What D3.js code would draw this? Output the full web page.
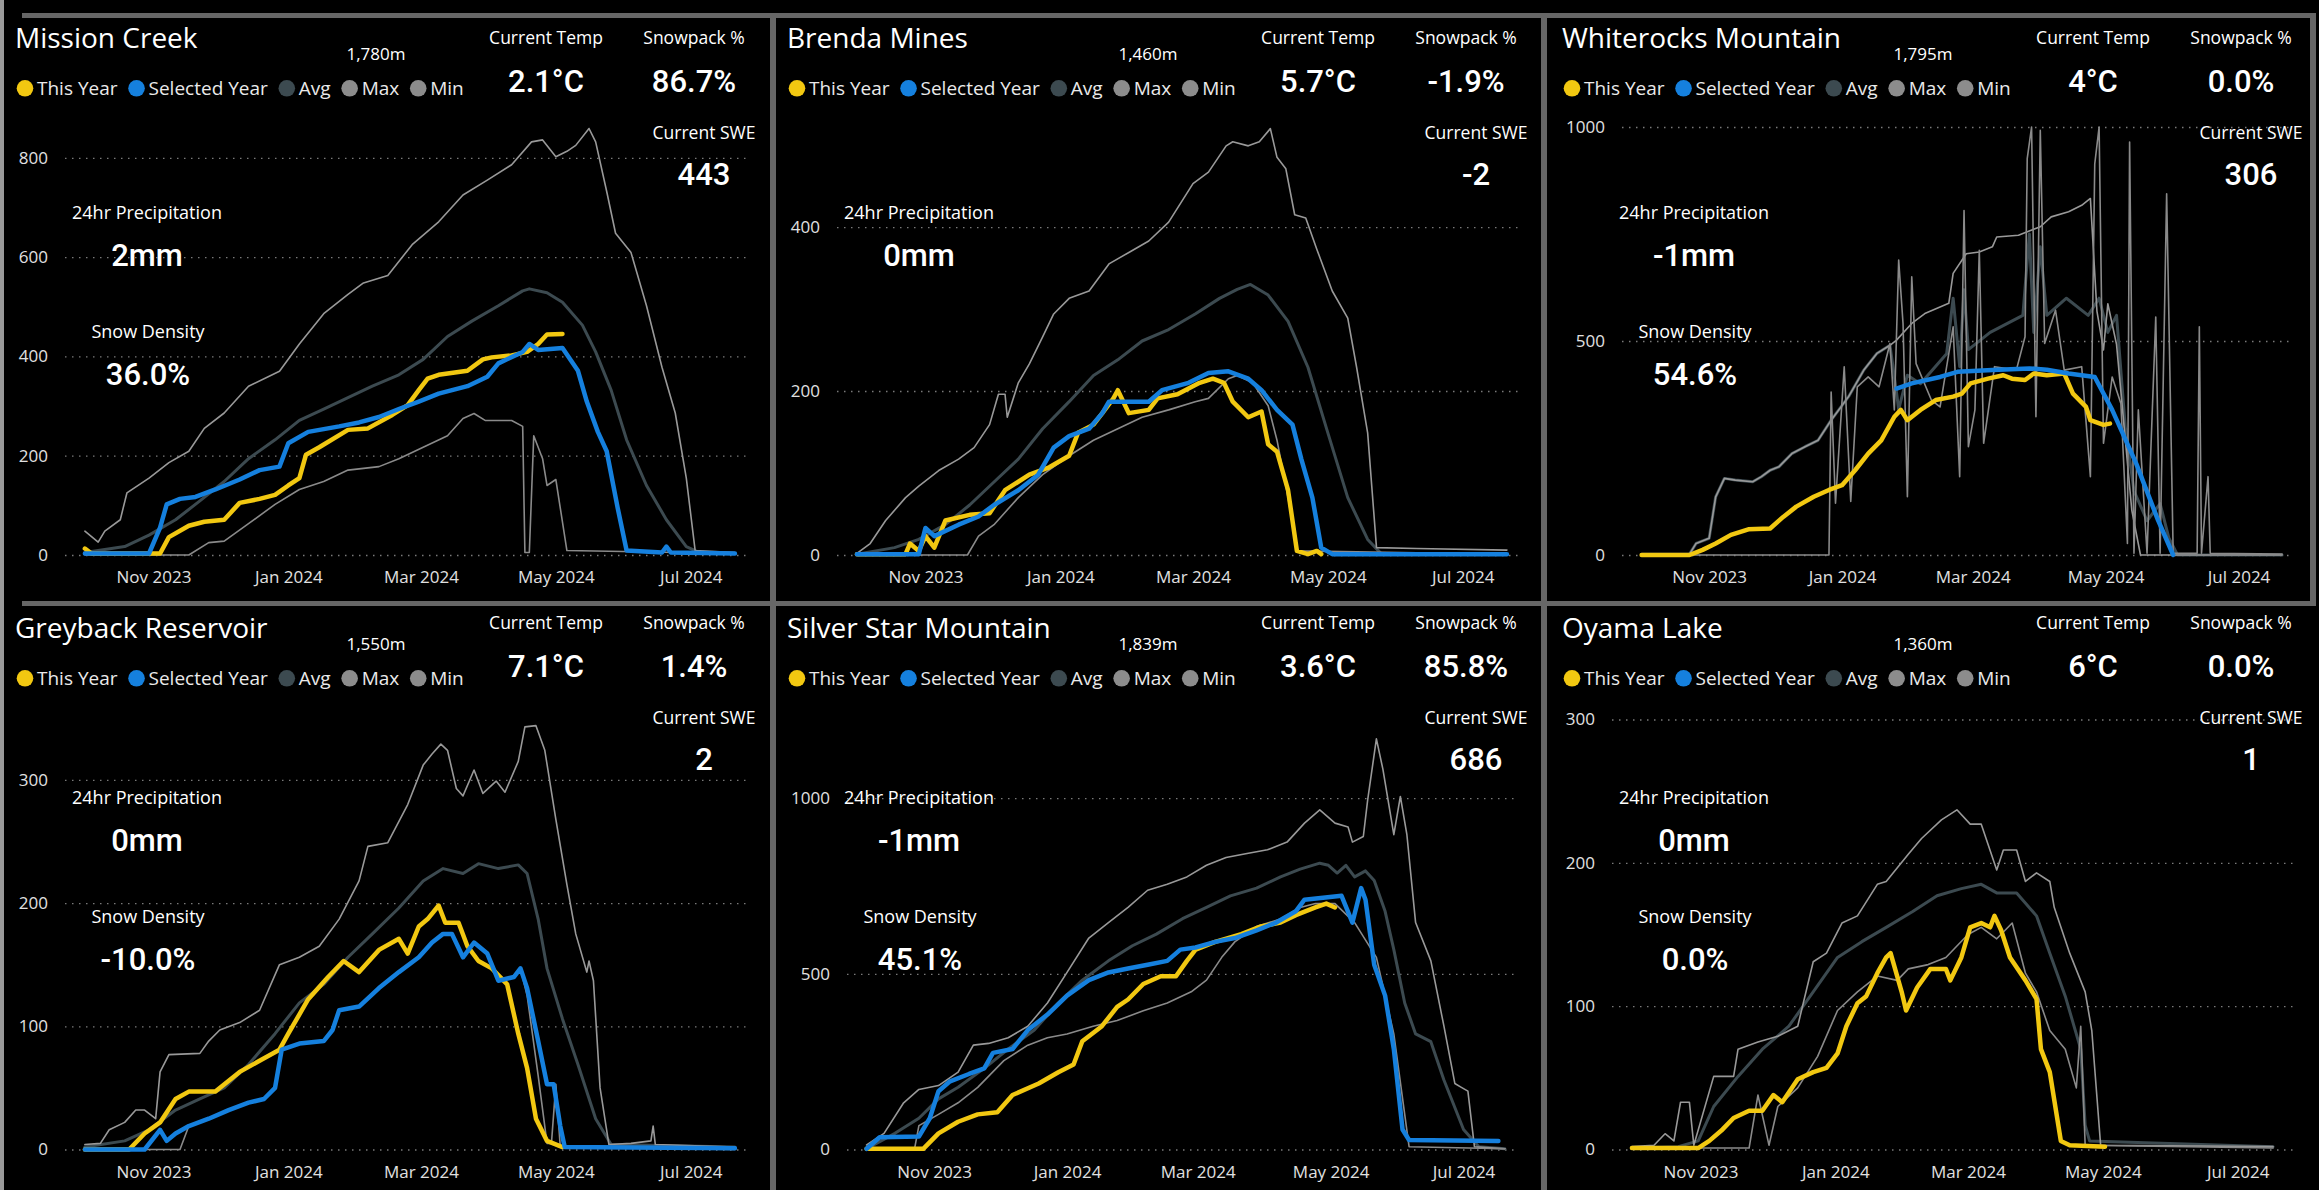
<!DOCTYPE html>
<html>
<head>
<meta charset="utf-8">
<script src="https://cdnjs.cloudflare.com/ajax/libs/d3/7.8.5/d3.min.js"></script>
<style>
  body { margin: 0; background: #000; }
  svg { display: block; }
  text { font-family: "Open Sans", sans-serif; }
</style>
</head>
<body>
<svg id="chart" width="2319" height="1190"></svg>
<script>
// station header values
var stations = ["Mission Creek", "Brenda Mines", "Whiterocks Mountain", "Greyback Reservoir", "Silver Star Mountain", "Oyama Lake"];
var elevations = ["1,780m", "1,460m", "1,795m", "1,550m", "1,839m", "1,360m"];
var temps = ["2.1°C", "5.7°C", "4°C", "7.1°C", "3.6°C", "6°C"];
var snowpacks = ["86.7%", "-1.9%", "0.0%", "1.4%", "85.8%", "0.0%"];
var swes = ["443", "-2", "306", "2", "686", "1"];
var precips = ["2mm", "0mm", "-1mm", "0mm", "-1mm", "0mm"];
var densities = ["36.0%", null, "54.6%", "-10.0%", "45.1%", "0.0%"];
var yMaxes = [862, 522, 1000, 349, 1224, 300];
var yTicks = [[0, 200, 400, 600, 800], [0, 200, 400], [0, 500, 1000], [0, 100, 200, 300], [0, 500, 1000], [0, 100, 200, 300]];
var seriesNames = ["This Year", "Selected Year", "Avg", "Max", "Min"];

// [days since 1 Oct 2023, SWE mm]
var mcThis = [[0,13],[3,3],[34,3],[38,36],[47,59],[54,67],[63,71],[70,105],[79,113],[86,121],[92,140],[97,155],[100,202],[106,217],[119,252],[128,255],[139,282],[146,302],[151,332],[155,355],[160,363],[173,371],[180,394],[184,398],[193,402],[200,409],[205,425],[209,444],[216,445]];
var mcSel = [[0,3],[29,3],[34,55],[37,102],[43,113],[50,117],[59,132],[70,152],[79,171],[88,178],[92,225],[101,248],[115,259],[124,267],[133,278],[142,294],[151,309],[160,325],[173,340],[182,359],[187,386],[198,409],[201,425],[205,413],[216,417],[223,371],[227,309],[232,248],[236,209],[241,94],[245,9],[261,5],[263,17],[265,5],[294,3]];
var mcAvg = [[0,5],[18,17],[29,40],[41,71],[52,109],[63,148],[74,194],[86,232],[97,271],[108,294],[119,317],[130,340],[142,363],[153,394],[164,440],[175,471],[187,502],[198,532],[201,536],[209,528],[216,509],[225,463],[231,409],[238,332],[245,232],[254,140],[263,71],[272,17],[279,3],[294,3]];
var mcMax = [[0,48],[6,26],[9,48],[16,71],[19,125],[29,155],[38,186],[47,209],[54,255],[63,286],[74,340],[88,370],[97,425],[108,486],[119,525],[126,548],[137,563],[148,625],[160,671],[171,725],[182,755],[193,786],[202,832],[207,836],[213,802],[218,813],[222,825],[228,859],[231,832],[236,732],[240,648],[247,609],[254,502],[261,378],[267,286],[272,155],[276,9],[294,5]];
var mcMin = [[0,0],[47,0],[56,25],[63,28],[74,63],[86,102],[97,132],[108,148],[119,171],[133,178],[142,194],[153,217],[164,240],[171,275],[176,285],[181,271],[193,271],[198,259],[199,5],[201,5],[203,240],[207,194],[209,140],[213,152],[218,9],[294,3]];

var bmThis = [[0,1],[22,1],[24,14],[28,5],[31,23],[35,9],[40,42],[51,49],[60,51],[67,79],[78,98],[87,107],[96,121],[100,149],[107,159],[111,173],[116,191],[118,201],[123,173],[132,177],[136,191],[145,196],[155,210],[161,215],[166,210],[170,187],[177,168],[183,175],[186,135],[190,126],[195,79],[199,5],[204,1],[208,5],[210,1]];
var bmSel = [[0,1],[28,1],[31,33],[35,23],[46,37],[55,47],[62,61],[73,79],[82,98],[89,131],[96,145],[105,154],[111,173],[114,187],[132,187],[138,201],[150,210],[159,222],[168,224],[177,215],[183,201],[190,177],[197,159],[201,117],[206,70],[210,9],[215,1],[294,1]];
var bmAvg = [[0,1],[17,9],[28,19],[40,37],[51,61],[62,89],[73,117],[84,154],[96,187],[107,219],[118,238],[129,261],[141,275],[153,294],[164,313],[172,324],[178,330],[186,317],[195,285],[204,229],[213,149],[222,70],[231,19],[237,2],[294,1]];
var bmMax = [[0,2],[6,14],[13,42],[22,70],[28,84],[37,103],[46,117],[53,131],[60,159],[64,196],[67,196],[68,168],[73,210],[78,233],[84,266],[89,294],[96,313],[105,322],[114,355],[123,369],[132,383],[141,406],[152,453],[159,467],[167,499],[170,504],[177,499],[182,504],[187,520],[190,485],[194,471],[198,415],[203,411],[208,373],[215,322],[222,289],[226,229],[231,149],[235,9],[253,8],[294,6]];
var bmMin = [[0,0],[50,0],[55,23],[62,37],[73,70],[84,98],[96,121],[107,140],[118,154],[129,168],[141,177],[153,187],[159,191],[168,215],[172,219],[179,210],[186,182],[190,140],[195,70],[199,5],[294,1]];

var wrThis = [[0,0],[22,0],[28,12],[34,27],[41,47],[49,60],[59,62],[65,89],[71,113],[79,136],[86,152],[92,163],[98,198],[104,237],[110,268],[116,323],[119,339],[122,315],[128,339],[135,362],[143,370],[147,377],[151,401],[159,412],[166,420],[170,412],[176,409],[180,424],[186,420],[194,424],[198,377],[204,346],[206,315],[212,304],[215,307]];
var wrSel = [[117,389],[124,401],[137,416],[145,428],[161,432],[178,436],[186,433],[196,424],[208,416],[216,339],[227,214],[237,82],[244,0]];
var wrAvg = [[0,2],[22,2],[25,27],[31,39],[34,136],[38,179],[43,175],[51,171],[55,183],[59,198],[63,206],[69,237],[75,253],[81,268],[87,315],[95,370],[102,432],[108,471],[114,490],[117,380],[118,340],[122,420],[128,400],[140,470],[143,600],[146,440],[148,620],[150,480],[160,520],[175,560],[178,750],[180,520],[183,720],[186,560],[195,600],[205,560],[210,600],[214,520],[218,560],[222,300],[226,150],[232,80],[238,120],[242,40],[246,0],[294,0]];
var wrMax = [[0,2],[22,2],[25,27],[31,39],[34,136],[38,179],[43,175],[51,171],[55,183],[59,198],[63,206],[69,237],[75,253],[81,268],[87,315],[95,370],[102,432],[108,471],[114,490],[117,502],[124,541],[130,564],[141,588],[143,658],[149,704],[155,708],[161,720],[163,743],[173,747],[175,751],[183,767],[188,790],[196,802],[202,817],[206,833],[209,570],[212,479],[214,587],[218,492],[225,105],[229,0],[294,0]];
var wrMin = [[0,0],[86,0],[87,381],[89,121],[93,440],[96,125],[99,393],[104,416],[109,393],[114,494],[116,339],[118,689],[120,541],[122,136],[124,650],[126,447],[133,362],[137,346],[143,533],[146,183],[148,805],[150,253],[153,339],[155,712],[157,261],[162,440],[172,432],[176,510],[177,926],[179,1000],[181,323],[183,992],[185,494],[190,572],[194,432],[202,440],[206,183],[208,914],[210,1000],[212,261],[216,416],[220,354],[223,27],[224,965],[226,4],[228,339],[232,4],[236,556],[238,4],[241,844],[244,4],[255,4],[256,533],[257,4],[260,183],[261,4],[294,2]];

var gbThis = [[0,0],[20,0],[27,13],[34,22],[41,41],[47,47],[59,47],[70,63],[79,72],[88,81],[92,94],[101,122],[110,140],[117,153],[124,144],[133,162],[142,171],[146,159],[151,181],[155,187],[160,198],[163,184],[169,184],[173,165],[178,153],[184,147],[191,134],[196,94],[200,66],[204,25],[209,7],[216,2]];
var gbSel = [[0,0],[27,0],[34,16],[37,7],[41,13],[47,19],[56,25],[65,32],[74,38],[81,41],[86,50],[89,81],[97,86],[108,88],[112,97],[115,113],[124,116],[133,131],[142,144],[151,156],[157,168],[162,175],[166,175],[171,156],[176,168],[182,159],[187,137],[194,140],[197,147],[200,131],[205,88],[209,53],[212,53],[215,19],[217,2],[294,1]];
var gbAvg = [[0,2],[18,7],[29,16],[41,32],[52,41],[63,50],[74,69],[86,94],[97,119],[108,134],[119,156],[130,175],[142,196],[153,218],[162,228],[171,224],[178,232],[187,228],[196,231],[200,224],[205,187],[209,147],[216,106],[223,69],[231,25],[238,4],[294,2]];
var gbMax = [[0,4],[7,5],[11,16],[18,22],[23,32],[27,32],[32,25],[34,63],[38,77],[52,78],[56,88],[61,97],[70,103],[79,113],[88,150],[97,156],[106,165],[115,187],[124,218],[128,246],[137,249],[146,280],[153,312],[157,321],[161,329],[164,324],[168,293],[171,287],[176,308],[180,289],[186,299],[190,290],[196,315],[199,343],[204,344],[208,324],[213,268],[218,215],[222,175],[227,144],[228,153],[230,137],[233,50],[237,4],[247,5],[256,7],[257,19],[258,4],[294,2]];
var gbMin = [[0,0],[43,0],[47,19],[56,25],[65,32],[74,38],[81,41],[86,50],[89,81],[97,86],[108,88],[112,97],[115,113],[124,116],[133,131],[142,144],[151,156],[157,168],[162,175],[166,175],[171,156],[176,168],[182,159],[187,137],[194,140],[197,147],[200,125],[205,60],[209,5],[211,5],[213,53],[215,2],[294,0]];

var ssThis = [[0,2],[26,2],[33,46],[42,79],[51,100],[60,106],[67,155],[79,188],[88,220],[95,242],[99,308],[108,351],[115,406],[120,427],[127,471],[135,493],[142,493],[147,537],[151,569],[160,591],[172,613],[181,635],[190,646],[197,667],[206,689],[211,700],[215,689]];
var ssSel = [[0,2],[6,35],[24,37],[29,89],[33,166],[38,193],[47,215],[54,231],[58,275],[67,286],[74,340],[83,384],[92,438],[102,482],[111,504],[120,515],[129,526],[138,537],[144,569],[151,575],[160,591],[169,602],[179,624],[188,646],[197,678],[201,711],[218,722],[223,646],[227,744],[229,711],[233,526],[238,438],[242,286],[246,57],[249,27],[290,24]];
var ssAvg = [[0,2],[13,46],[24,89],[33,144],[42,177],[54,231],[65,286],[77,340],[88,417],[99,482],[111,537],[122,580],[133,613],[145,657],[156,689],[167,722],[179,744],[190,776],[199,798],[208,815],[212,809],[216,787],[220,809],[224,776],[229,793],[233,766],[238,678],[242,569],[247,417],[252,329],[259,307],[265,198],[274,57],[281,8],[293,2]];
var ssMax = [[0,13],[8,46],[17,133],[24,171],[33,182],[42,220],[49,297],[56,302],[65,318],[74,351],[83,417],[92,504],[102,602],[111,646],[120,689],[129,738],[138,755],[147,776],[156,809],[165,831],[174,842],[184,853],[193,875],[201,929],[208,967],[215,929],[221,918],[223,875],[228,891],[230,995],[234,1169],[237,1082],[242,896],[245,1005],[248,896],[252,646],[259,537],[265,351],[270,188],[273,177],[276,166],[279,8],[293,2]];
var ssMin = [[0,2],[22,2],[24,68],[33,100],[42,133],[51,177],[63,253],[74,297],[83,318],[92,329],[104,351],[115,367],[127,395],[138,417],[149,449],[156,482],[163,547],[169,591],[179,635],[190,656],[199,689],[206,700],[215,700],[224,646],[234,547],[242,329],[249,8],[293,2]];

var oyThis = [[0,1],[30,1],[35,6],[41,14],[46,22],[53,27],[59,27],[64,38],[68,33],[75,49],[82,54],[88,57],[93,67],[97,86],[102,102],[106,107],[111,123],[115,134],[117,137],[122,110],[124,97],[129,113],[135,126],[142,126],[144,118],[149,134],[153,155],[158,158],[162,155],[164,163],[167,153],[171,134],[178,118],[183,105],[185,70],[189,54],[194,6],[198,3],[214,2]];
var oySel = [];
var oyAvg = [[0,1],[21,2],[30,6],[37,30],[48,51],[59,70],[71,86],[82,110],[93,134],[104,145],[115,155],[127,166],[138,177],[149,182],[158,185],[165,179],[174,179],[183,163],[189,137],[196,107],[203,70],[205,17],[207,6],[290,2]];
var oyMax = [[0,2],[10,3],[15,11],[19,6],[22,33],[26,33],[28,3],[37,51],[46,51],[48,70],[57,75],[66,79],[75,86],[82,131],[88,137],[95,158],[102,163],[111,185],[115,187],[125,206],[131,217],[140,230],[147,237],[153,227],[158,227],[165,195],[168,209],[174,209],[178,187],[183,193],[189,187],[191,169],[198,137],[205,110],[208,83],[212,3],[290,2]];
var oyMin = [[0,1],[53,1],[57,38],[62,3],[66,30],[75,43],[84,65],[93,97],[102,110],[111,121],[120,118],[125,126],[134,129],[142,134],[152,150],[158,155],[165,147],[172,158],[178,123],[183,110],[189,83],[196,70],[201,43],[203,86],[205,3],[290,1]];

var thisYear = [mcThis, bmThis, wrThis, gbThis, ssThis, oyThis];
var selYear = [mcSel, bmSel, wrSel, gbSel, ssSel, oySel];
var avgs = [mcAvg, bmAvg, wrAvg, gbAvg, ssAvg, oyAvg];
var maxs = [mcMax, bmMax, wrMax, gbMax, ssMax, oyMax];
var mins = [mcMin, bmMin, wrMin, gbMin, ssMin, oyMin];

var colors = ["#F2C811", "#1580DE", "#3C4A50", "#999999", "#8A8A8A"];
var dotColors = ["#F2C811", "#1580DE", "#3C4A50", "#8C8C8C", "#8C8C8C"];
var widths = [4.5, 4.5, 3, 1.6, 1.6];
var drawOrder = [2, 3, 4, 0, 1];   // avg + grey lines underneath, this/selected year on top

var W = 2319, H = 1190;
var start = new Date(2023, 9, 1);
var domainX = [new Date(2023, 8, 22), new Date(2024, 6, 26)];
var colX = [4, 776, 1551];
var plotY = [[555, 127], [1149.5, 719.5]];

var svg = d3.select("#chart");
svg.append("rect").attr("width", W).attr("height", H).attr("fill", "#000");

function label(g, x, y, s, size, anchor, fill, family, weight) {
    return g.append("text")
        .attr("x", x).attr("y", y)
        .attr("text-anchor", anchor || "middle")
        .style("font-size", size + "px")
        .style("fill", fill || "#fff")
        .style("font-family", family || null)
        .style("font-weight", weight || null)
        .text(s);
}

var bigFont = "Roboto, sans-serif";

stations.forEach(function(name, i) {
    var col = i % 3, row = Math.floor(i / 3);
    var x0 = colX[col];
    var tr = row ? 590 : 0;   // title + legend
    var vr = row ? 585 : 0;   // card values
    var g = svg.append("g");

    var wide = d3.max(yTicks[i]) >= 1000;
    var left = x0 + (wide ? 71 : 61), right = x0 + 742;
    var x = d3.scaleTime().domain(domainX).range([left, right]);
    var y = d3.scaleLinear().domain([0, yMaxes[i]]).range(plotY[row]);

    // gridlines + y labels
    var ya = g.append("g")
        .attr("transform", "translate(" + left + ",0)")
        .call(d3.axisLeft(y).tickValues(yTicks[i]).tickFormat(d3.format("d"))
            .tickSize(-(right - left)).tickPadding(17));
    ya.select(".domain").remove();
    ya.selectAll("line").attr("stroke", "#7a7a7a").attr("stroke-width", 1.3).attr("stroke-dasharray", "1.5 5.5");
    ya.selectAll("text").style("font-size", "17px").style("fill", "#e0e0e0").style("font-family", "'Open Sans', sans-serif");

    var xa = g.append("g")
        .attr("transform", "translate(0," + plotY[row][0] + ")")
        .call(d3.axisBottom(x).ticks(d3.timeMonth.every(2)).tickFormat(d3.timeFormat("%b %Y")).tickSize(0));
    xa.select(".domain").remove();
    xa.selectAll("text").attr("y", 28).attr("dy", null)
        .style("font-size", "17px").style("fill", "#e0e0e0").style("font-family", "'Open Sans', sans-serif");

    var line = d3.line()
        .x(function(d) { return x(d3.timeDay.offset(start, d[0])); })
        .y(function(d) { return y(d[1]); });

    var series = [thisYear[i], selYear[i], avgs[i], maxs[i], mins[i]];
    drawOrder.forEach(function(k) {
        var s = series[k];
        if (!s.length) return;
        g.append("path")
            .datum(s)
            .attr("d", line)
            .attr("fill", "none")
            .attr("stroke", colors[k])
            .attr("stroke-width", widths[k])
            .attr("stroke-linejoin", "round")
            .attr("stroke-linecap", "round");
    });

    // header
    label(g, x0 + 11, 47.7 + tr, name, 28, "start");
    label(g, x0 + 372, 60.3 + tr, elevations[i], 17);

    var lx = x0 + 21;
    seriesNames.forEach(function(s, k) {
        g.append("circle").attr("cx", lx).attr("cy", 88.3 + tr).attr("r", 8.3).attr("fill", dotColors[k]);
        var t = label(g, lx + 12, 95 + tr, s, 19, "start", "#eaeaea");
        lx += 12 + t.node().getComputedTextLength() + 19;
    });

    label(g, x0 + 542, 44.3 + vr, "Current Temp", 17.5);
    label(g, x0 + 542, 91.7 + vr, temps[i], 31, "middle", "#fff", bigFont, 500);
    label(g, x0 + 690, 44.3 + vr, "Snowpack %", 17.5);
    label(g, x0 + 690, 91.7 + vr, snowpacks[i], 31, "middle", "#fff", bigFont, 500);
    label(g, x0 + 700, 139 + vr, "Current SWE", 17.5);
    label(g, x0 + 700, 185 + vr, swes[i], 31, "middle", "#fff", bigFont, 500);
    label(g, x0 + 143, 219 + vr, "24hr Precipitation", 18);
    label(g, x0 + 143, 266 + vr, precips[i], 31, "middle", "#fff", bigFont, 500);
    if (densities[i] != null) {
        label(g, x0 + 144, 338 + vr, "Snow Density", 18);
        label(g, x0 + 144, 385 + vr, densities[i], 31, "middle", "#fff", bigFont, 500);
    }
});

// panel frame
var frame = svg.append("g").attr("fill", "#666");
frame.append("rect").attr("x", 0).attr("y", 0).attr("width", 4).attr("height", H).attr("fill", "#9a9a9a");
frame.append("rect").attr("x", 22).attr("y", 13).attr("width", 2288).attr("height", 5);
frame.append("rect").attr("x", 22).attr("y", 601).attr("width", 2290).attr("height", 5);
frame.append("rect").attr("x", 770).attr("y", 13).attr("width", 6).attr("height", H - 13);
frame.append("rect").attr("x", 1541).attr("y", 13).attr("width", 6).attr("height", H - 13);
frame.append("rect").attr("x", 2310).attr("y", 13).attr("width", 6).attr("height", 593);
</script>
</body>
</html>
